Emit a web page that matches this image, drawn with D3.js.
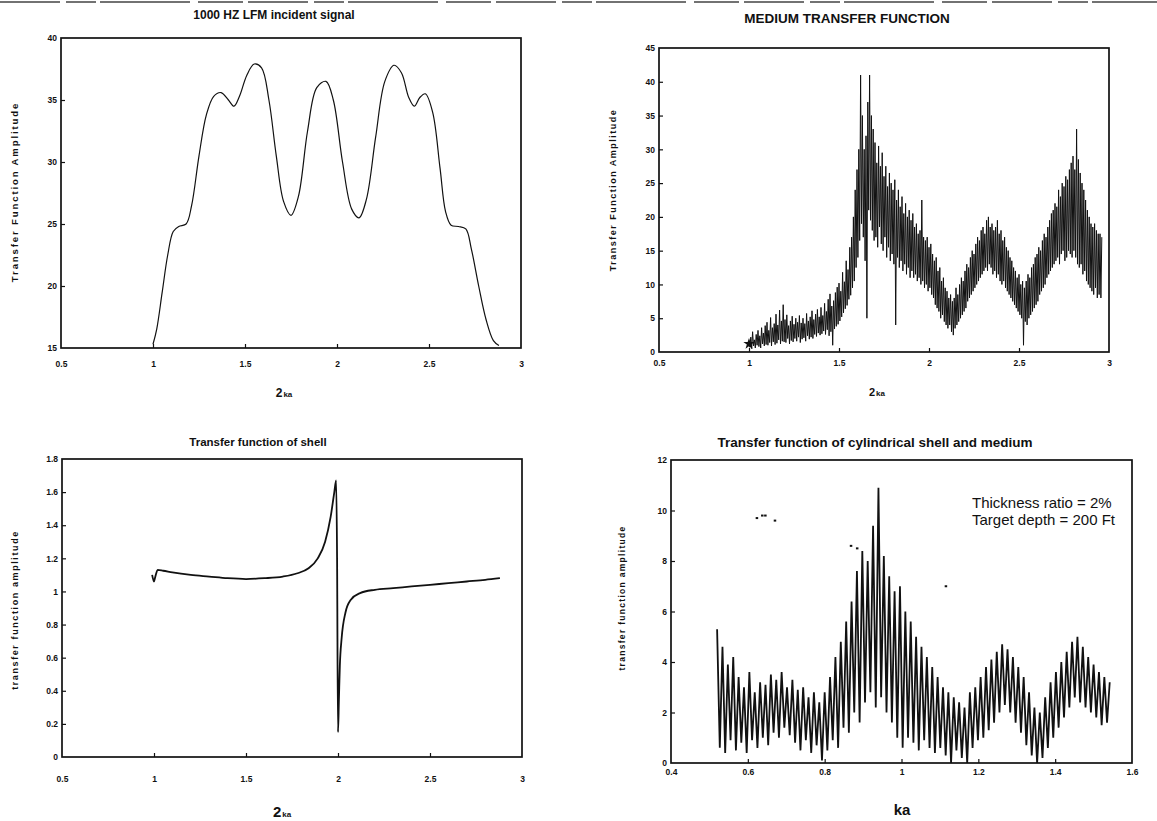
<!DOCTYPE html>
<html><head><meta charset="utf-8">
<script src="https://cdn.jsdelivr.net/npm/d3@7"></script>
<style>
body{margin:0;background:#fff}
svg{display:block}
text{font-family:"Liberation Sans",Arial,sans-serif;fill:#111}
</style>
</head><body>
<svg id="c" width="1157" height="821"></svg>
<script>
// ---------- DATA ----------
// Panel 1: 1000 HZ LFM incident signal
const p1Ka  = [1.00,1.02,1.05,1.08,1.11,1.14,1.18,1.21,1.25,1.29,1.33,1.37,1.41,1.44,1.47,1.51,1.55,1.59,1.63,1.67,1.71,1.75,1.79,1.84,1.89,1.94,1.98,2.03,2.08,2.12,2.16,2.21,2.26,2.31,2.35,2.39,2.42,2.45,2.48,2.52,2.56,2.59,2.62,2.66,2.70,2.73,2.77,2.81,2.85,2.88];
const p1Amp = [15.3,16.5,19.5,22.5,24.4,24.8,25.0,26.5,30.5,33.8,35.3,35.6,35.0,34.5,35.3,37.0,37.9,37.6,35.0,30.5,26.8,25.7,27.2,32.5,36.0,36.5,35.0,30.0,26.2,25.5,27.0,32.0,36.5,37.8,37.2,35.2,34.5,35.2,35.5,34.0,29.5,26.0,24.9,24.8,24.6,23.0,20.0,17.3,15.6,15.2];
const p1XTicks = [0.5,1,1.5,2,2.5,3];
const p1YTicks = [15,20,25,30,35,40];

// Panel 2: medium transfer function (sampled every 0.005 from ka = 1.00)
const p2KaStart = 1.00, p2KaStep = 0.005;
const p2Amp = [
 1.2,0.7,2.2,0.5,3.0,0.9,1.8,0.6,2.6,1.0, 3.2,0.8,2.4,0.6,3.6,1.2,2.8,0.9,3.9,1.1,
 4.4,1.0,3.2,1.4,5.1,0.9,3.6,1.5,4.2,1.1, 5.6,1.3,4.0,1.8,6.2,1.2,4.6,1.6,7.0,1.5,
 4.8,1.4,5.5,2.0,3.9,1.2,4.6,1.7,5.3,1.5, 4.1,2.0,5.0,1.6,4.4,2.2,5.4,1.4,4.3,1.9,
 5.0,2.1,4.2,1.6,5.7,2.4,4.6,1.9,5.2,2.2, 6.1,2.0,4.8,2.6,5.6,2.3,6.3,2.8,5.2,2.5,
 6.6,2.7,5.4,3.1,7.2,2.6,6.0,3.3,7.8,2.4, 8.6,3.0,6.8,1.0,7.6,3.4,8.8,3.8,9.6,4.1,
 10.2,4.6,9.0,5.2,11.8,5.8,10.4,6.4,13.5,6.9, 12.2,7.8,15.5,8.4,17.0,9.5,20.0,10.5,24.0,12.5,
 27.0,14.0,30.0,16.5,41.0,19.0,35.0,17.0,30.0,13.5, 32.0,5.0,37.0,21.0,41.0,19.5,35.0,18.0,33.0,16.5,
 31.0,17.0,28.0,15.5,30.5,18.5,27.5,16.0,29.5,15.0, 26.0,17.0,27.5,14.0,24.5,15.5,26.5,13.5,25.0,14.5,
 24.0,13.0,25.5,4.0,22.5,14.0,24.0,12.5,21.5,13.5, 23.0,12.0,20.5,13.0,22.0,11.5,20.0,12.5,21.0,11.0,
 19.5,12.0,20.5,11.0,18.5,11.5,19.0,10.5,17.5,11.0, 18.0,10.0,22.5,10.5,17.0,9.5,16.5,10.0,17.0,9.0,
 15.5,9.5,16.0,8.5,14.5,8.0,13.5,7.0,14.0,6.5, 12.0,6.0,12.5,5.0,10.5,5.5,11.0,4.5,9.5,4.0,
 9.0,3.5,8.0,4.0,8.5,3.0,7.5,2.5,8.0,3.5, 9.5,4.0,8.5,4.5,10.0,5.0,11.0,5.5,10.5,6.0,
 12.0,6.5,13.0,7.5,12.5,8.0,14.0,8.5,15.0,9.0, 14.5,9.5,16.0,10.0,17.0,10.5,16.5,11.0,18.0,11.5,
 18.5,12.0,17.5,12.5,19.5,12.0,20.0,13.0,18.5,12.5, 19.0,11.5,18.0,12.0,18.5,11.0,19.5,11.5,17.5,10.5,
 18.0,10.0,16.5,10.5,17.0,9.5,15.5,9.0,15.0,8.5, 14.0,8.0,13.5,7.5,12.5,7.0,12.0,6.5,11.0,6.0,
 11.5,5.5,10.0,5.0,10.5,1.0,9.5,4.5,10.5,4.0, 11.5,5.0,11.0,5.5,12.5,6.0,13.0,6.5,14.0,7.0,
 14.5,7.5,15.5,8.5,15.0,9.0,16.5,9.5,17.5,10.0, 17.0,11.0,18.5,11.5,19.5,12.0,20.5,12.5,21.0,13.0,
 22.0,13.5,21.5,14.0,24.0,13.0,23.0,14.5,25.0,15.0, 24.5,13.5,26.0,14.0,25.5,15.0,27.0,14.5,28.0,14.0,
 29.0,15.0,27.0,14.0,33.0,13.0,28.5,12.5,26.5,13.0, 25.0,11.5,24.0,12.0,22.5,10.5,21.0,10.0,20.0,9.5,
 19.0,9.0,18.5,8.5,19.0,9.5,18.0,8.0,17.5,8.5,17.5,8.0,17.0];
const p2Marker = [1.0, 1.2];
const p2XTicks = [0.5,1,1.5,2,2.5,3];
const p2YTicks = [0,5,10,15,20,25,30,35,40,45];

// Panel 3: transfer function of shell
const p3Ka  = [0.99,1.0,1.005,1.02,1.05,1.1,1.2,1.3,1.4,1.5,1.6,1.7,1.78,1.84,1.89,1.93,1.96,1.98,1.99,1.995,2.0,2.005,2.01,2.02,2.04,2.07,2.12,2.2,2.3,2.4,2.5,2.6,2.7,2.8,2.88];
const p3Amp = [1.10,1.06,1.08,1.13,1.125,1.115,1.10,1.09,1.08,1.075,1.08,1.09,1.11,1.14,1.20,1.30,1.45,1.60,1.67,1.2,0.15,0.35,0.55,0.72,0.87,0.95,0.99,1.01,1.02,1.03,1.04,1.05,1.06,1.07,1.08];
const p3XTicks = [0.5,1,1.5,2,2.5,3];
const p3YTicks = [0,0.2,0.4,0.6,0.8,1,1.2,1.4,1.6,1.8];

// Panel 4: cylindrical shell and medium (sampled every 0.007 from ka = 0.52)
const p4KaStart = 0.52, p4KaStep = 0.007;
const p4Amp = [
 5.3,0.6,4.6,0.4,3.9,0.9,4.2,0.5,3.4,0.8, 3.0,0.4,3.6,0.9,2.8,0.6,3.2,1.0,3.1,0.7,
 3.5,1.2,3.3,1.0,3.6,1.4,3.0,1.1,3.3,0.8, 2.9,0.5,3.0,0.9,2.6,0.4,2.8,0.7,2.4,0.1,
 2.8,0.5,3.4,0.9,4.2,0.6,4.8,1.4,5.6,1.2, 6.4,2.0,7.6,1.6,8.4,2.4,8.0,2.8,9.4,2.2,
 10.9,2.6,8.2,2.0,7.4,1.6,6.8,1.0,7.0,0.6, 6.0,1.0,5.6,0.8,5.0,0.5,4.6,0.9,4.2,0.6,
 3.8,0.4,3.4,0.6,3.0,0.3,2.8,0.0,2.6,0.5, 2.4,0.2,2.2,0.0,2.8,0.6,3.0,0.9,3.4,1.0,
 3.8,1.3,4.1,1.6,4.4,2.0,4.7,2.3,4.5,2.0, 4.2,1.6,3.8,1.2,3.4,0.7,2.8,0.3,2.2,0.0,
 2.0,0.2,2.6,0.6,3.2,1.0,3.6,1.4,4.0,1.8, 4.4,2.2,4.8,2.6,5.0,2.4,4.6,2.2,4.2,2.0,
 3.9,1.8,3.6,1.5,3.4,1.6,3.2];
const p4DotKa  = [0.623,0.637,0.645,0.67,0.868,0.884,1.115];
const p4DotAmp = [9.7,9.8,9.8,9.6,8.6,8.5,7.0];
const p4XTicks = [0.4,0.6,0.8,1,1.2,1.4,1.6];
const p4YTicks = [0,2,4,6,8,10,12];
const p4Notes = ["Thickness ratio = 2%","Target depth = 200 Ft"];

// ---------- DRAW ----------
const svg = d3.select("#c");

// scan border line at top
svg.append("line").attr("x1",0).attr("x2",1157).attr("y1",2).attr("y2",2)
  .attr("stroke","#444").attr("stroke-width",1.6).attr("stroke-dasharray","60,6,30,4,90,8,45,5");

function panel(o){
  const g = svg.append("g");
  const x = d3.scaleLinear().domain(o.xd).range([o.l,o.r]);
  const y = d3.scaleLinear().domain(o.yd).range([o.b,o.t]);
  const fmt = d => String(d);
  const ax = g.append("g").attr("transform",`translate(0,${o.b})`)
    .call(d3.axisBottom(x).tickValues(o.xt).tickFormat(fmt).tickSizeInner(-4).tickSizeOuter(0).tickPadding(o.xpad));
  const ay = g.append("g").attr("transform",`translate(${o.l},0)`)
    .call(d3.axisLeft(y).tickValues(o.yt).tickFormat(fmt).tickSizeInner(-4).tickSizeOuter(0).tickPadding(4));
  [ax,ay].forEach(a=>{
    a.select(".domain").remove();
    a.selectAll(".tick line").attr("stroke","#111").attr("stroke-width",1.2);
    a.selectAll(".tick text").attr("font-size",8.5).attr("font-weight","bold").attr("fill","#111")
      .style("font-family","'Liberation Sans',Arial,sans-serif");
  });
  ax.selectAll(".tick line").filter(d=>d===o.xd[0]||d===o.xd[1]).remove();
  ay.selectAll(".tick line").filter(d=>d===o.yd[0]||d===o.yd[1]).remove();
  g.append("rect").attr("x",o.l).attr("y",o.t).attr("width",o.r-o.l).attr("height",o.b-o.t)
    .attr("fill","none").attr("stroke","#111").attr("stroke-width",1.7);
  g.append("text").attr("x",o.tx).attr("y",o.ty).attr("text-anchor","middle")
    .attr("font-size",o.tfs).attr("font-weight",o.tfw||"bold").text(o.title);
  g.append("text").attr("transform",`translate(${o.ylx},${o.yly}) rotate(-90)`)
    .attr("text-anchor","middle").attr("font-size",o.ylfs).attr("font-weight","bold")
    .attr("letter-spacing",o.ylls).text(o.ylab);
  return {g,x,y};
}

function xlab2ka(g,cx,cy,big,small){
  const t = g.append("text").attr("x",cx).attr("y",cy).attr("text-anchor","middle").attr("font-weight","bold");
  t.append("tspan").attr("font-size",big).text("2");
  t.append("tspan").attr("font-size",small).attr("dx",1).text("ka");
}

// Panel 1
{
  const P = panel({l:61,r:521,t:38,b:348,xd:[0.5,3],yd:[15,40],xt:p1XTicks,yt:p1YTicks,xpad:13,
    title:"1000 HZ LFM incident signal",tx:274,ty:19,tfs:12,
    ylab:"Transfer Function Amplitude",ylx:18,yly:192,ylfs:9.5,ylls:1.9});
  const pts = p1Ka.map((k,i)=>[k,p1Amp[i]]);
  P.g.append("path").datum(pts).attr("fill","none").attr("stroke","#111").attr("stroke-width",1.2)
    .attr("d",d3.line().x(d=>P.x(d[0])).y(d=>P.y(d[1])).curve(d3.curveCatmullRom.alpha(0.5)));
  xlab2ka(P.g,284,397,12,8);
}
// Panel 2
{
  const P = panel({l:659,r:1109,t:48,b:352,xd:[0.5,3],yd:[0,45],xt:p2XTicks,yt:p2YTicks,xpad:8,
    title:"MEDIUM TRANSFER FUNCTION",tx:847,ty:23,tfs:13.5,tfw:"bold",
    ylab:"Transfer Function Amplitude",ylx:616,yly:190,ylfs:9,ylls:1.5});
  const pts = p2Amp.map((v,i)=>[p2KaStart+i*p2KaStep,v]);
  P.g.append("path").datum(pts).attr("fill","none").attr("stroke","#111").attr("stroke-width",1.0)
    .attr("d",d3.line().x(d=>P.x(d[0])).y(d=>P.y(d[1])));
  P.g.append("path").attr("transform",`translate(${P.x(p2Marker[0])},${P.y(p2Marker[1])})`)
    .attr("d",d3.symbol().type(d3.symbolStar).size(40)).attr("fill","#111");
  xlab2ka(P.g,877,396,11,8);
}
// Panel 3
{
  const P = panel({l:62,r:522,t:459,b:757,xd:[0.5,3],yd:[0,1.8],xt:p3XTicks,yt:p3YTicks,xpad:19,
    title:"Transfer function of shell",tx:258,ty:446,tfs:11.5,
    ylab:"transfer function amplitude",ylx:18,yly:610,ylfs:9,ylls:1.6});
  const pts = p3Ka.map((k,i)=>[k,p3Amp[i]]);
  P.g.append("path").datum(pts).attr("fill","none").attr("stroke","#111").attr("stroke-width",1.8)
    .attr("d",d3.line().x(d=>P.x(d[0])).y(d=>P.y(d[1])).curve(d3.curveMonotoneX));
  xlab2ka(P.g,282,817,15,8);
}
// Panel 4
{
  const P = panel({l:671,r:1132,t:460,b:763,xd:[0.4,1.6],yd:[0,12],xt:p4XTicks,yt:p4YTicks,xpad:6,
    title:"Transfer function of cylindrical shell and medium",tx:875,ty:447,tfs:13.5,
    ylab:"transfer function amplitude",ylx:625,yly:598,ylfs:8.5,ylls:1.3});
  const pts = p4Amp.map((v,i)=>[p4KaStart+i*p4KaStep,v]);
  P.g.append("path").datum(pts).attr("fill","none").attr("stroke","#111").attr("stroke-width",1.8)
    .attr("d",d3.line().x(d=>P.x(d[0])).y(d=>P.y(d[1])));
  P.g.selectAll("rect.dot").data(p4DotKa).join("rect").attr("class","dot")
    .attr("x",d=>P.x(d)-1).attr("y",(d,i)=>P.y(p4DotAmp[i])-1).attr("width",2.5).attr("height",2).attr("fill","#111");
  P.g.selectAll("text.note").data(p4Notes).join("text").attr("class","note")
    .attr("x",972).attr("y",(d,i)=>508+i*17).attr("font-size",15).text(d=>d);
  P.g.append("text").attr("x",902).attr("y",815).attr("text-anchor","middle")
    .attr("font-size",15).attr("font-weight","bold").text("ka");
}
</script>
</body></html>
